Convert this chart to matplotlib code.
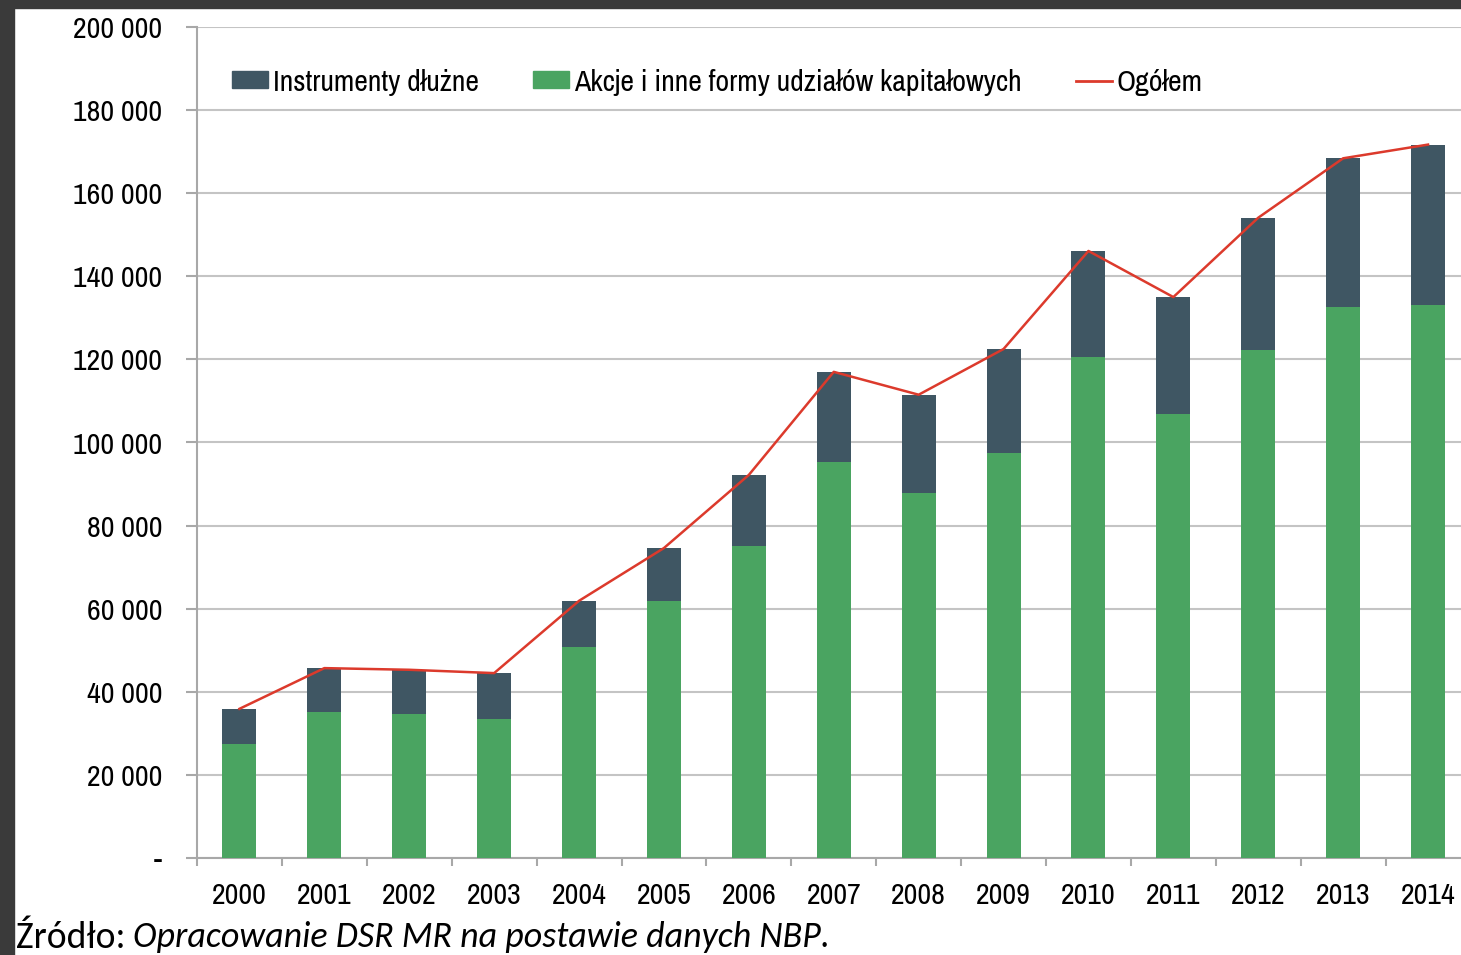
import matplotlib
matplotlib.use("Agg")
import matplotlib.pyplot as plt
from matplotlib.patches import Rectangle
from matplotlib.lines import Line2D
from matplotlib import font_manager as fm
import numpy as np

years = ["2000", "2001", "2002", "2003", "2004", "2005", "2006", "2007",
         "2008", "2009", "2010", "2011", "2012", "2013", "2014"]
akcje = [27400, 35200, 34700, 33400, 50800, 61900, 75100, 95300,
         87900, 97500, 120600, 106900, 122300, 132500, 133000]
instrumenty = [8500, 10500, 10600, 11100, 11100, 12700, 17100, 21700,
               23600, 25000, 25500, 28100, 31800, 35900, 38700]
ogolem = [35900, 45700, 45300, 44500, 61900, 74600, 92200, 117000,
          111500, 122500, 146100, 135000, 154100, 168400, 171700]
yticks = [0, 20000, 40000, 60000, 80000, 100000, 120000, 140000,
          160000, 180000, 200000]
ytick_labels = ["-", "20 000", "40 000", "60 000", "80 000", "100 000",
                "120 000", "140 000", "160 000", "180 000", "200 000"]

names = {f.name for f in fm.fontManager.ttflist}


def pick(cands):
    for c in cands:
        if c in names:
            return c
    return "DejaVu Sans"


narrow = pick(["Liberation Sans Narrow", "Archivo Narrow", "Roboto Condensed",
               "Arimo", "Liberation Sans"])
capfont = pick(["Carlito", "Open Sans", "Noto Sans"])

W, H = 1461, 955
fig = plt.figure(figsize=(W / 100, H / 100), dpi=100)
fig.patch.set_facecolor("white")

left, right_px, top, bottom = 197, 1470.5, 27, 858
ax = fig.add_axes([left / W, (H - bottom) / H, (right_px - left) / W, (bottom - top) / H])

x = np.arange(len(years))
c_dark = "#3f5663"
c_green = "#4aa461"
c_red = "#dc3a2c"
ax.bar(x, akcje, width=0.4, color=c_green, zorder=3)
ax.bar(x, instrumenty, width=0.4, bottom=akcje, color=c_dark, zorder=3)
ax.plot(x, ogolem, color=c_red, lw=1.8, zorder=4)

FS = 21.5
ax.set_xlim(-0.5, len(years) - 0.5)
ax.set_ylim(0, 200000)
ax.set_yticks(yticks)
ax.set_yticklabels(ytick_labels, fontfamily=narrow, fontsize=FS)
ax.set_xticks(x)
ax.set_xticklabels(years, fontfamily=narrow, fontsize=FS)
ax.set_xticks(np.arange(-0.5, len(years), 1.0), minor=True)
ax.tick_params(axis="x", which="major", length=0, pad=17)
ax.tick_params(axis="x", which="minor", length=6, color="#a8a8a8", width=1.5)
ax.tick_params(axis="y", length=8, color="#a8a8a8", width=1.5, pad=17)
ax.grid(axis="y", color="#c4c4c4", lw=1.5, zorder=0)
for s in ["top", "right"]:
    ax.spines[s].set_visible(False)
for s in ["left", "bottom"]:
    ax.spines[s].set_color("#a8a8a8")
    ax.spines[s].set_linewidth(1.5)

handles = [Rectangle((0, 0), 1, 1, color=c_dark),
           Rectangle((0, 0), 1, 1, color=c_green),
           Line2D([0], [0], color=c_red, lw=2)]
labels = ["Instrumenty dłużne", "Akcje i inne formy udziałów kapitałowych", "Ogółem"]
leg = ax.legend(handles, labels, loc="center left",
                bbox_to_anchor=((232 - left) / (right_px - left), (bottom - 82) / (bottom - top)),
                ncol=3, frameon=False, handlelength=1.21, handleheight=0.5,
                handletextpad=0.17, columnspacing=1.8, borderpad=0, borderaxespad=0,
                prop={"family": narrow, "size": FS})

y_cap = 1 - 937 / H
t1 = fig.text(16 / W, y_cap, "Źródło:", fontfamily=capfont, fontsize=FS,
              va="center", ha="left")
t2 = fig.text(133 / W, y_cap, "Opracowanie DSR MR na postawie danych NBP.",
              fontfamily=capfont, style="italic", fontsize=FS, va="center", ha="left")

# fit caption widths to the reference
fig.canvas.draw()
r = fig.canvas.get_renderer()
w1 = t1.get_window_extent(r).width
t1.set_fontsize(FS * (110 / w1))
w2 = t2.get_window_extent(r).width
t2.set_fontsize(FS * (697 / w2))

fig.add_artist(Rectangle((0, 1 - 8 / H), 1, 8 / H, transform=fig.transFigure,
                         color="#3a3a3a", zorder=10))
fig.add_artist(Rectangle((0, 0), 14 / W, 1, transform=fig.transFigure,
                         color="#3a3a3a", zorder=10))

fig.savefig("out.png", dpi=100)
